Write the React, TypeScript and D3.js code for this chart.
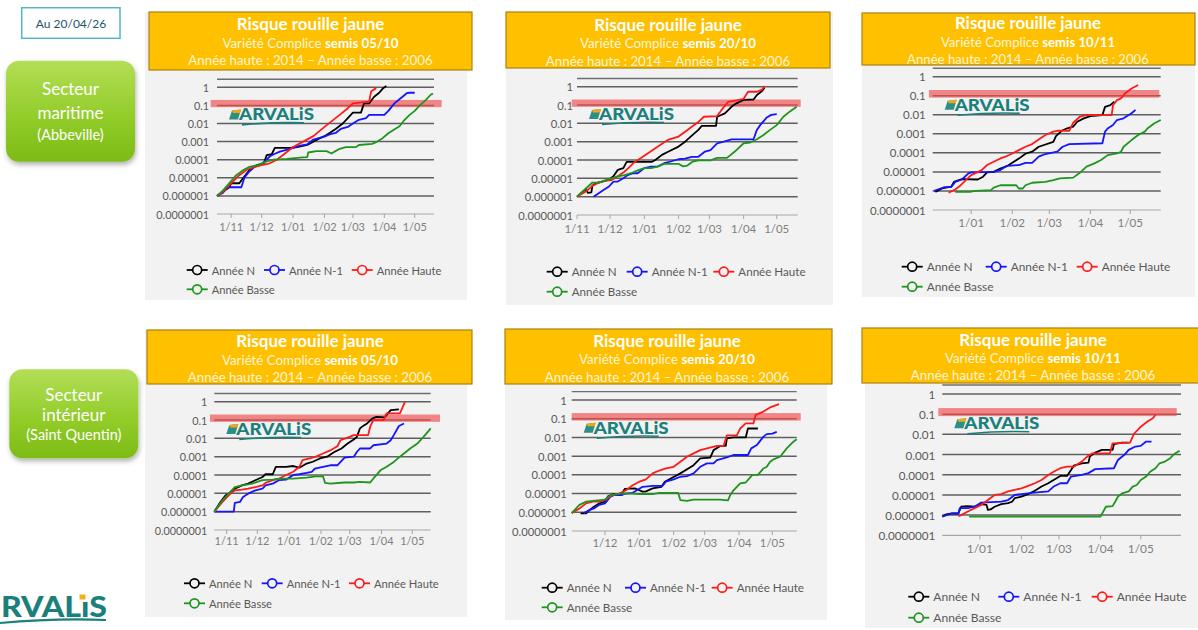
import React from "react";
import * as d3 from "d3";

type Pt = [string, number];

// ---------- shared labels ----------
const seriesNames = ["Année N", "Année N-1", "Année Haute", "Année Basse"];
const seriesColors = ["#000000", "#1414ff", "#ff1a1a", "#1e951e"];
const yTickValues = [1, 0.1, 0.01, 0.001, 0.0001, 0.00001, 0.000001, 0.0000001];
const yTickLabels = ["1", "0.1", "0.01", "0.001", "0.0001", "0.00001", "0.000001", "0.0000001"];
const monthTicksA = ["11-01", "12-01", "01-01", "02-01", "03-01", "04-01", "05-01"];
const monthTicksB = ["12-01", "01-01", "02-01", "03-01", "04-01", "05-01"];
const monthTicksC = ["01-01", "02-01", "03-01", "04-01", "05-01"];
const thresholdValue = 0.1;
const titleMain = "Risque rouille jaune";
const sowingDates = ["05/10", "20/10", "10/11", "05/10", "20/10", "10/11"];
const yearsLine = "Année haute : 2014 – Année basse : 2006";
const sectorLabels = [["Secteur", "maritime", "(Abbeville)"], ["Secteur", "intérieur", "(Saint Quentin)"]];
const dateLabel = "Au 20/04/26";

// ---------- Panel 1 : maritime, semis 05/10 ----------
const p1N: Pt[] = [["10-18",1e-6],["10-24",1.7e-6],["10-30",3e-6],["11-01",5e-6],["11-09",5e-6],["11-13",1e-5],["11-19",2.7e-5],["11-26",5e-5],["12-03",6e-5],["12-06",1.8e-4],["12-11",2e-4],["12-14",4.5e-4],["12-29",4.5e-4],["01-05",5e-4],["01-15",6.5e-4],["01-21",1e-3],["01-27",1.5e-3],["02-01",2e-3],["02-06",3e-3],["02-12",5e-3],["02-19",1e-2],["02-24",0.02],["03-01",0.04],["03-09",0.04],["03-12",0.13],["03-17",0.13],["03-22",0.3],["03-27",0.5],["03-30",0.8],["04-03",1.2]];
const p1N1: Pt[] = [["10-18",1e-6],["10-24",1.5e-6],["10-28",3e-6],["11-11",3e-6],["11-14",1e-5],["11-18",2e-5],["11-24",4e-5],["11-29",5e-5],["12-04",8e-5],["12-09",1.5e-4],["12-13",2e-4],["12-19",2.8e-4],["12-29",4e-4],["01-08",6e-4],["01-15",7e-4],["01-21",1.3e-3],["02-01",1.9e-3],["02-06",2.5e-3],["02-12",3e-3],["02-17",5e-3],["02-24",6.5e-3],["03-01",0.01],["03-07",0.016],["03-14",0.02],["03-17",0.03],["04-01",0.03],["04-05",0.05],["04-11",0.13],["04-15",0.2],["04-19",0.3],["04-23",0.47],["04-26",0.5],["05-01",0.5]];
const p1H: Pt[] = [["10-18",1e-6],["10-24",1.7e-6],["11-01",5e-6],["11-09",1.4e-5],["11-16",2.7e-5],["11-24",4e-5],["12-01",5e-5],["12-08",6e-5],["12-16",1e-4],["12-23",2e-4],["01-01",5e-4],["01-11",1e-3],["01-21",2e-3],["02-01",6.5e-3],["02-16",0.03],["02-24",0.07],["03-01",0.13],["03-17",0.16],["03-19",0.6],["03-24",0.9]];
const p1B: Pt[] = [["10-18",1e-6],["10-24",2e-6],["10-30",5e-6],["11-06",1.4e-5],["11-13",2.7e-5],["11-19",4e-5],["11-27",5e-5],["12-06",8e-5],["12-13",1e-4],["12-26",1.1e-4],["01-08",1.3e-4],["01-15",1.4e-4],["01-16",2.5e-4],["01-24",3e-4],["02-03",3e-4],["02-08",2.2e-4],["02-11",2.8e-4],["02-16",4e-4],["02-22",5e-4],["03-04",5e-4],["03-07",6.5e-4],["03-20",7.5e-4],["03-25",1e-3],["03-30",1.5e-3],["04-05",2.9e-3],["04-10",4.4e-3],["04-16",7e-3],["04-21",0.016],["04-26",0.03],["05-01",0.05],["05-06",0.1],["05-12",0.2],["05-17",0.4],["05-19",0.45]];

// ---------- Panel 2 : maritime, semis 20/10 ----------
const p2N: Pt[] = [["11-01",1e-6],["11-09",2.5e-6],["11-11",1.6e-6],["11-14",1.7e-6],["11-15",4e-6],["11-18",5.5e-6],["11-29",8e-6],["12-04",1.3e-5],["12-08",2.9e-5],["12-13",3.6e-5],["12-16",8e-5],["01-08",8e-5],["01-11",1e-4],["01-17",1.9e-4],["01-23",2.9e-4],["02-01",5.4e-4],["02-07",1e-3],["02-12",1.9e-3],["02-19",4.4e-3],["02-22",7.2e-3],["03-07",7.2e-3],["03-08",0.023],["03-15",0.035],["03-21",0.08],["03-25",0.12],["04-01",0.19],["04-10",0.2],["04-13",0.35],["04-18",0.6],["04-20",0.9]];
const p2N1: Pt[] = [["11-16",1e-6],["11-21",1.6e-6],["11-25",2.3e-6],["11-30",3.6e-6],["12-04",6.7e-6],["12-08",6.7e-6],["12-13",1e-5],["12-17",1.5e-5],["12-22",1.9e-5],["12-26",1.9e-5],["01-01",3.6e-5],["01-07",4.4e-5],["01-13",4.4e-5],["01-19",6.7e-5],["01-25",8.3e-5],["02-01",1.1e-4],["02-07",1.2e-4],["02-13",1.5e-4],["02-19",1.5e-4],["02-25",2.9e-4],["03-02",3.5e-4],["03-08",8.2e-4],["03-14",1e-3],["03-21",1.35e-3],["04-10",1.35e-3],["04-13",4.4e-3],["04-16",8e-3],["04-22",0.021],["04-26",0.029],["05-01",0.032]];
const p2H: Pt[] = [["11-01",1e-6],["11-09",1.9e-6],["11-15",3.9e-6],["11-21",5.9e-6],["11-27",7.6e-6],["12-02",8e-6],["12-08",1.3e-5],["12-14",2.3e-5],["12-19",4.4e-5],["12-23",7.6e-5],["12-29",1.3e-4],["01-04",2.3e-4],["01-11",4.4e-4],["01-17",7.6e-4],["01-23",1.3e-3],["02-01",1.9e-3],["02-07",3.5e-3],["02-13",6.6e-3],["02-19",0.012],["02-24",0.023],["03-08",0.025],["03-12",0.054],["03-18",0.15],["03-28",0.19],["04-01",0.22],["04-05",0.53],["04-13",0.53],["04-18",0.72],["04-20",1.1]];
const p2B: Pt[] = [["11-01",1e-6],["11-09",2.8e-6],["11-15",5.9e-6],["11-21",5.9e-6],["11-27",8e-6],["12-02",1e-5],["12-08",1.3e-5],["12-14",1.5e-5],["12-20",1.9e-5],["12-26",2.7e-5],["01-01",3.6e-5],["01-07",3.6e-5],["01-13",4.4e-5],["01-19",6.2e-5],["02-01",6.2e-5],["02-05",4.5e-5],["02-09",5e-5],["02-14",8.3e-5],["02-19",9.5e-5],["03-02",9.5e-5],["03-08",1.3e-4],["03-17",1.3e-4],["03-24",2.9e-4],["04-01",8.2e-4],["04-07",9e-4],["04-13",1.35e-3],["04-19",2.3e-3],["04-25",4.4e-3],["05-01",8e-3],["05-07",0.023],["05-13",0.045],["05-19",0.08]];

// ---------- Panel 3 : maritime, semis 10/11 ----------
const p3N: Pt[] = [["12-05",9e-7],["12-10",1.35e-6],["12-17",1.7e-6],["12-19",3e-6],["12-25",4.2e-6],["01-06",4e-6],["01-10",5.6e-6],["01-13",9.4e-6],["01-18",1e-5],["01-23",1.5e-5],["01-28",2e-5],["02-01",3e-5],["02-06",5e-5],["02-11",9e-5],["02-16",1.15e-4],["02-21",2.1e-4],["03-04",3.8e-4],["03-06",7.6e-4],["03-10",1.4e-3],["03-14",1.9e-3],["03-19",2.4e-3],["03-22",4.3e-3],["03-27",6.5e-3],["04-01",8.5e-3],["04-10",9.6e-3],["04-12",0.026],["04-16",0.032],["04-19",0.049]];
const p3N1: Pt[] = [["12-04",1e-6],["12-09",1.35e-6],["12-12",1.6e-6],["12-17",1.6e-6],["12-20",3e-6],["12-25",4e-6],["12-30",8.3e-6],["01-01",9.4e-6],["01-18",1e-5],["01-23",1.25e-5],["01-28",2.1e-5],["02-06",2.3e-5],["02-11",3e-5],["02-16",3e-5],["02-21",6.3e-5],["02-26",8.7e-5],["03-07",1.15e-4],["03-11",2.1e-4],["03-16",2.9e-4],["04-10",3.2e-4],["04-12",1.3e-3],["04-14",1.9e-3],["04-18",2.9e-3],["04-21",5.3e-3],["04-26",6.5e-3],["05-02",0.012],["05-05",0.018]];
const p3H: Pt[] = [["12-15",8e-7],["12-20",1.2e-6],["12-23",1.7e-6],["12-28",3.7e-6],["01-01",6.8e-6],["01-09",1.25e-5],["01-13",2.3e-5],["01-18",3.4e-5],["01-23",5.1e-5],["01-28",6.8e-5],["02-01",9.3e-5],["02-06",1.4e-4],["02-11",2.1e-4],["02-16",2.9e-4],["02-21",5.1e-4],["02-26",8.7e-4],["03-04",1.3e-3],["03-07",1.45e-3],["03-16",1.45e-3],["03-19",3.8e-3],["03-24",7.9e-3],["03-29",9.6e-3],["04-17",9.6e-3],["04-18",0.032],["04-21",0.059],["04-24",0.073],["04-27",0.13],["05-02",0.24],["05-07",0.37]];
const p3B: Pt[] = [["12-20",9e-7],["12-31",9e-7],["01-04",1e-6],["01-16",1.1e-6],["01-18",1.5e-6],["01-23",2e-6],["02-04",2e-6],["02-06",1.35e-6],["02-09",1.35e-6],["02-11",2e-6],["02-16",2.7e-6],["02-26",3e-6],["03-04",3.7e-6],["03-09",4.6e-6],["03-19",5e-6],["03-24",9e-6],["03-29",1.9e-5],["04-04",2.8e-5],["04-09",4.2e-5],["04-14",7.6e-5],["04-21",9.3e-5],["04-24",1.15e-4],["04-26",2.1e-4],["05-02",4.7e-4],["05-07",8.7e-4],["05-12",1.3e-3],["05-14",1.9e-3],["05-19",3.5e-3],["05-24",5.3e-3]];

// ---------- Panel 4 : intérieur, semis 05/10 ----------
const p4N: Pt[] = [["10-20",1e-6],["10-26",3.4e-6],["10-31",7.8e-6],["11-03",9.6e-6],["11-09",1.8e-5],["11-16",2.7e-5],["11-22",3.4e-5],["11-29",5.2e-5],["12-06",7.8e-5],["12-09",1.1e-4],["12-16",1.1e-4],["12-19",2.8e-4],["12-29",2.8e-4],["01-05",3.1e-4],["01-11",2.5e-4],["01-18",4.2e-4],["01-24",5.3e-4],["01-31",8e-4],["02-07",1e-3],["02-14",1.8e-3],["02-21",2.8e-3],["02-27",5.2e-3],["03-05",8.7e-3],["03-08",0.012],["03-11",0.035],["03-14",0.047],["03-18",0.065],["03-23",0.12],["03-27",0.15],["04-04",0.14],["04-10",0.35],["04-18",0.38]];
const p4N1: Pt[] = [["10-20",1e-6],["11-08",1e-6],["11-09",3e-6],["11-14",3.4e-6],["11-17",6.3e-6],["11-22",9.6e-6],["11-29",1.45e-5],["12-06",1.8e-5],["12-09",2.7e-5],["12-16",3.4e-5],["12-22",5.2e-5],["12-29",5.6e-5],["01-05",1e-4],["01-11",1.1e-4],["01-18",1.3e-4],["01-23",1.5e-4],["01-26",2.2e-4],["02-03",2.8e-4],["02-10",3.4e-4],["02-17",3.4e-4],["02-24",8.9e-4],["03-05",1e-3],["03-08",1.8e-3],["03-11",2.8e-3],["03-21",2.8e-3],["03-24",4.2e-3],["04-06",5.2e-3],["04-10",7.9e-3],["04-13",0.015],["04-18",0.047],["04-23",0.065]];
const p4H: Pt[] = [["10-20",1e-6],["10-28",3.4e-6],["11-03",7.8e-6],["11-09",1.45e-5],["11-16",1.6e-5],["11-22",1.8e-5],["11-29",2.2e-5],["12-06",2.7e-5],["12-09",3.7e-5],["12-16",5.2e-5],["12-22",6.3e-5],["12-29",1e-4],["01-05",1.5e-4],["01-11",2.8e-4],["01-14",6.4e-4],["01-21",8e-4],["01-27",1e-3],["02-03",1.5e-3],["02-10",2.2e-3],["02-17",3.7e-3],["02-20",7.9e-3],["02-27",0.011],["03-05",0.015],["03-19",0.015],["03-21",0.043],["03-24",0.1],["04-03",0.1],["04-06",0.23],["04-19",0.23],["04-24",1]];
const p4B: Pt[] = [["10-20",1e-6],["10-28",4.2e-6],["11-03",9.6e-6],["11-09",2.2e-5],["11-16",2.7e-5],["11-26",3.4e-5],["12-06",5.2e-5],["12-16",5.6e-5],["12-26",6.3e-5],["01-05",6.3e-5],["01-18",7.2e-5],["01-27",8.5e-5],["02-03",8.5e-5],["02-05",3.7e-5],["02-10",3.4e-5],["02-24",3.9e-5],["03-05",3.9e-5],["03-11",4.2e-5],["03-21",3.9e-5],["03-24",6.3e-5],["03-31",1.8e-4],["04-06",2.8e-4],["04-13",5.2e-4],["04-19",1e-3],["04-23",1.5e-3],["04-29",2.8e-3],["05-06",5.2e-3],["05-12",0.012],["05-19",0.035]];

// ---------- Panel 5 : intérieur, semis 20/10 ----------
const p5N: Pt[] = [["11-09",8.7e-7],["11-14",8.7e-7],["11-17",1.3e-6],["11-21",2e-6],["11-26",3e-6],["12-01",3.7e-6],["12-04",7.4e-6],["12-09",9.4e-6],["12-16",9.4e-6],["12-19",1.8e-5],["12-28",1.9e-5],["01-01",1.5e-5],["01-04",1.26e-5],["01-07",1.3e-5],["01-13",1.9e-5],["01-21",2.3e-5],["01-24",4.3e-5],["02-07",1.2e-4],["02-19",3.3e-4],["02-25",7.6e-4],["03-06",8.4e-4],["03-09",2.1e-3],["03-15",3.5e-3],["03-20",3.5e-3],["03-21",8.9e-3],["03-27",0.01],["04-07",0.01],["04-09",0.03],["04-18",0.03]];
const p5N1: Pt[] = [["11-12",9e-7],["11-17",1.3e-6],["11-21",1.6e-6],["11-26",2.5e-6],["12-01",3e-6],["12-06",6.8e-6],["12-09",8.3e-6],["12-16",8.3e-6],["12-19",1e-5],["12-26",1.1e-5],["01-04",2.3e-5],["01-13",2.6e-5],["01-22",2.6e-5],["01-25",4.3e-5],["02-01",5.7e-5],["02-07",7.9e-5],["02-13",8.6e-5],["02-19",1.2e-4],["02-25",2.7e-4],["03-03",4.1e-4],["03-09",4.1e-4],["03-12",6.2e-4],["03-21",8.5e-4],["03-27",1.15e-3],["04-09",1.15e-3],["04-12",2.6e-3],["04-17",3.9e-3],["04-23",0.011],["04-26",0.015],["05-01",0.016],["05-05",0.02]];
const p5H: Pt[] = [["11-01",9e-7],["11-08",1.6e-6],["11-14",3e-6],["11-20",3.7e-6],["11-26",3.7e-6],["12-01",4.5e-6],["12-08",8.3e-6],["12-14",1e-5],["12-20",1.5e-5],["12-26",2.8e-5],["01-01",4.3e-5],["01-07",5.7e-5],["01-13",1.2e-4],["01-19",1.7e-4],["01-25",2.2e-4],["02-01",2.7e-4],["02-07",5e-4],["02-13",9.3e-4],["02-19",1.4e-3],["02-25",2.1e-3],["03-03",2.6e-3],["03-12",3.5e-3],["03-18",3.5e-3],["03-21",0.013],["03-30",0.013],["04-02",0.03],["04-07",0.056],["04-14",0.056],["04-16",0.16],["04-23",0.24],["04-29",0.4],["05-07",0.6]];
const p5B: Pt[] = [["11-01",9e-7],["11-08",2.5e-6],["11-14",3.7e-6],["11-20",4.1e-6],["12-01",4.8e-6],["12-06",8.3e-6],["12-14",1e-5],["12-26",1e-5],["01-01",9.4e-6],["01-13",9.4e-6],["01-19",1.1e-5],["02-05",1.1e-5],["02-07",4.5e-6],["02-13",4.1e-6],["02-19",4.8e-6],["03-15",4.8e-6],["03-19",4.5e-6],["03-22",4.3e-6],["03-24",8.3e-6],["03-27",1.5e-5],["04-02",3.5e-5],["04-07",3.9e-5],["04-13",1e-4],["04-18",1e-4],["04-23",2.2e-4],["04-26",2.7e-4],["04-29",5e-4],["05-02",6.7e-4],["05-08",9.3e-4],["05-14",2.6e-3],["05-20",5.9e-3],["05-23",7.9e-3]];

// ---------- Panel 6 : intérieur, semis 10/11 ----------
const p6N: Pt[] = [["12-04",8.5e-7],["12-07",1.1e-6],["12-11",1.2e-6],["12-16",1.2e-6],["12-18",2.6e-6],["12-23",2.8e-6],["12-28",2.6e-6],["01-02",3.5e-6],["01-06",3.2e-6],["01-07",1.8e-6],["01-09",1.9e-6],["01-12",2.6e-6],["01-17",3.5e-6],["01-22",3.9e-6],["01-25",4.6e-6],["01-27",6.9e-6],["02-01",8.3e-6],["02-06",1.1e-5],["02-11",1.6e-5],["02-16",2.6e-5],["02-21",3.8e-5],["02-25",5.5e-5],["03-02",8.7e-5],["03-07",8.7e-5],["03-10",1.7e-4],["03-12",2.8e-4],["03-18",3.7e-4],["03-23",4e-4],["03-24",7.9e-4],["03-28",1.25e-3],["04-02",1.7e-3],["04-10",1.7e-3],["04-11",3.3e-3],["04-17",3.9e-3],["04-22",3.9e-3]];
const p6N1: Pt[] = [["12-04",8.5e-7],["12-11",1.2e-6],["12-16",1.2e-6],["12-17",2.2e-6],["12-23",2.2e-6],["12-28",2.6e-6],["01-02",4.2e-6],["01-17",4.7e-6],["01-22",5.6e-6],["01-27",1e-5],["02-01",1.1e-5],["02-06",1.2e-5],["02-11",1.3e-5],["02-21",1.5e-5],["02-25",2.6e-5],["03-02",3.8e-5],["03-07",3.8e-5],["03-10",8.1e-5],["03-18",9.8e-5],["03-23",1.2e-4],["03-28",1.9e-4],["04-11",2.1e-4],["04-14",5.4e-4],["04-19",1e-3],["04-22",1.7e-3],["04-27",2.5e-3],["05-01",2.7e-3],["05-05",4.4e-3],["05-09",4.4e-3]];
const p6H: Pt[] = [["12-16",9e-7],["12-18",1e-6],["12-23",1.5e-6],["12-28",2.2e-6],["01-02",3.2e-6],["01-07",5.6e-6],["01-12",1e-5],["01-17",1.1e-5],["01-22",1.5e-5],["01-27",1.8e-5],["02-01",2.1e-5],["02-06",2.8e-5],["02-11",3.8e-5],["02-16",5.5e-5],["02-21",9.8e-5],["02-25",1.4e-4],["03-02",2.1e-4],["03-07",2.5e-4],["03-12",2.5e-4],["03-18",4.5e-4],["03-22",7.9e-4],["03-26",1.15e-3],["04-08",1.15e-3],["04-10",3.6e-3],["04-23",3.9e-3],["04-26",0.011],["04-29",0.017],["05-01",0.024],["05-06",0.043],["05-10",0.063],["05-12",0.091]];
const p6B: Pt[] = [["12-24",8.5e-7],["04-01",8.5e-7],["04-03",1.5e-6],["04-05",2.6e-6],["04-10",2.8e-6],["04-12",4.7e-6],["04-14",8.3e-6],["04-17",1.2e-5],["04-22",1.5e-5],["04-25",2.6e-5],["04-28",3.1e-5],["05-01",5.5e-5],["05-05",8.1e-5],["05-08",1.4e-4],["05-12",2.1e-4],["05-15",3.7e-4],["05-19",4.5e-4],["05-23",6.6e-4],["05-26",1.07e-3],["05-30",1.55e-3]];

const panelSeries: Pt[][][] = [
  [p1N, p1N1, p1H, p1B],
  [p2N, p2N1, p2H, p2B],
  [p3N, p3N1, p3H, p3B],
  [p4N, p4N1, p4H, p4B],
  [p5N, p5N1, p5H, p5B],
  [p6N, p6N1, p6H, p6B],
];
const xDomains: [string, string][] = [
  ["10-18", "05-20"], ["11-01", "05-20"], ["12-03", "05-24"],
  ["10-20", "05-19"], ["11-01", "05-23"], ["12-04", "05-31"],
];
const panelTicks = [monthTicksA, monthTicksA, monthTicksC, monthTicksA, monthTicksB, monthTicksC];

// ---------- layout (pixels) ----------
type Layout = {
  bg: [number, number, number, number];
  box: [number, number, number, number];
  cx: number; ty: [number, number, number];
  px: [number, number]; y1: number; y7: number;
  tickY: number; band: [number, number]; labGap: number;
  legY: [number, number]; legX: [number, number, number];
  fs: number; tf: number;
};
const layouts: Layout[] = [
  { bg: [145, 12, 467, 300], box: [149, 12, 472, 70], cx: 310.5, ty: [23.5, 42.5, 60], px: [217, 434], y1: 87.3, y7: 214, tickY: 226, band: [210.7, 441.7], labGap: 8, legY: [270, 289.3], legX: [186.7, 264, 351.7], fs: 1, tf: 1 },
  { bg: [506, 12, 833, 305], box: [506, 12, 830, 68], cx: 668, ty: [24, 43.3, 60.7], px: [577, 797.7], y1: 86.7, y7: 215, tickY: 228, band: [571.7, 800.7], labGap: 4, legY: [271.7, 291.7], legX: [546.7, 626.7, 713.3], fs: 1.04, tf: 1 },
  { bg: [862, 13, 1195, 297], box: [862, 13, 1195, 65], cx: 1028, ty: [22.7, 42, 58.5], px: [932.7, 1160.7], y1: 76.7, y7: 210, tickY: 221.7, band: [929, 1159.3], labGap: 7, legY: [266.7, 286.7], legX: [901.7, 985.7, 1076.7], fs: 1.06, tf: 0.99 },
  { bg: [145, 330, 467, 617], box: [147, 330, 472, 384], cx: 310, ty: [340.7, 360, 377.3], px: [214.3, 430.7], y1: 401.7, y7: 530, tickY: 540, band: [210, 440], labGap: 7, legY: [583.3, 603.3], legX: [184, 261.7, 349], fs: 1, tf: 1 },
  { bg: [505, 329, 827, 620], box: [505, 329, 832, 384], cx: 667, ty: [340.7, 359.3, 376.7], px: [571.7, 796.7], y1: 400, y7: 531, tickY: 542.7, band: [571.7, 800.7], labGap: 5, legY: [587.7, 607.3], legX: [541.7, 625, 711.7], fs: 1.04, tf: 1 },
  { bg: [865, 328, 1198, 628], box: [862, 328, 1200, 383], cx: 1033, ty: [339.3, 358.3, 375], px: [942.3, 1181], y1: 394, y7: 535.3, tickY: 548.3, band: [938.3, 1176.7], labGap: 7, legY: [596.7, 617.7], legX: [908.3, 998.3, 1091.7], fs: 1.08, tf: 1 },
];

const FONT = "Lato, 'Open Sans', sans-serif";
const TEAL = "#1b7f7b";

const parseMD = (s: string) => {
  const [m, d] = s.split("-").map(Number);
  return new Date(m >= 8 ? 2025 : 2026, m - 1, d);
};

function SmallLogo({ x, y }: { x: number; y: number }) {
  return (
    <g>
      <path d={`M${x},${y + 5} L${x + 3},${y - 4} L${x + 12},${y - 5} L${x + 9},${y + 5} Z`} fill="#2a8f86" />
      <path d={`M${x + 3},${y - 4} L${x + 12},${y - 5} L${x + 11},${y - 1.5} L${x + 4},${y - 1.5} Z`} fill="#f0a818" />
      <text x={x + 10} y={y + 6} fontFamily={FONT} fontWeight={900} fontSize={16} fill={TEAL}
        textLength={75} lengthAdjust="spacingAndGlyphs">ARVALiS</text>
      <path d={`M${x + 13},${y + 10.5} Q${x + 45},${y + 7.5} ${x + 75},${y + 8.5}`} stroke={TEAL} strokeWidth={1.6} fill="none" />
    </g>
  );
}

function Panel({ idx }: { idx: number }) {
  const L = layouts[idx];
  const series = panelSeries[idx];
  const x = d3.scaleTime().domain(xDomains[idx].map(parseMD)).range(L.px);
  const y = d3.scaleLog().domain([1e-7, 1]).range([L.y7, L.y1]);
  const line = d3.line<Pt>().x((d) => x(parseMD(d[0]))).y((d) => y(d[1]));
  const yTop = y(2.8);
  const bandTop = y(0.2);
  const bandBot = y(0.08);
  const [bx0, by0, bx1, by1] = L.box;
  const [gx0, gy0, gx1, gy1] = L.bg;
  const f = L.fs;
  const tf = L.tf;
  return (
    <g>
      <rect x={gx0} y={gy0} width={gx1 - gx0} height={gy1 - gy0} fill="#f2f2f2" />
      <rect x={bx0} y={by0} width={bx1 - bx0} height={by1 - by0} fill="#ffc000" stroke="#a9820f" strokeWidth={1.2} />
      <text x={L.cx} y={L.ty[0]} textAnchor="middle" dominantBaseline="central" fontFamily={FONT} fontWeight={700}
        fontSize={17 * tf} fill="#ffffff">{titleMain}</text>
      <text x={L.cx} y={L.ty[1]} textAnchor="middle" dominantBaseline="central" fontFamily={FONT} fontSize={13.3 * tf} fill="#fff5d8">
        Variété Complice <tspan fontWeight={700} fill="#ffffff">semis {sowingDates[idx]}</tspan>
      </text>
      <text x={L.cx} y={L.ty[2]} textAnchor="middle" dominantBaseline="central" fontFamily={FONT} fontSize={13.3 * tf} fill="#fff5d8">{yearsLine}</text>

      <line x1={L.px[0]} x2={L.px[1]} y1={yTop} y2={yTop} stroke="#6e6e6e" strokeWidth={1.4} />
      {yTickValues.map((v, i) => (
        <g key={i}>
          {i < yTickValues.length - 1 && (
            <line x1={L.px[0]} x2={L.px[1]} y1={y(v)} y2={y(v)} stroke="#5f5f5f" strokeWidth={1.5} />
          )}
          <text x={L.px[0] - L.labGap} y={y(v)} textAnchor="end" dominantBaseline="central" fontFamily={FONT}
            fontSize={10.8 * f} fill="#595959">{yTickLabels[i]}</text>
        </g>
      ))}
      <line x1={L.px[0]} x2={L.px[1]} y1={L.y7} y2={L.y7} stroke="#a6a6a6" strokeWidth={1.2} />
      {panelTicks[idx].map((t) => (
        <g key={t}>
          <line x1={x(parseMD(t))} x2={x(parseMD(t))} y1={L.y7} y2={L.y7 + 4} stroke="#a6a6a6" strokeWidth={1} />
          <text x={x(parseMD(t))} y={L.tickY} textAnchor="middle" dominantBaseline="central" fontFamily={FONT}
            fontSize={11 * f} fill="#7f7f7f">{d3.timeFormat("%-d/%m")(parseMD(t))}</text>
        </g>
      ))}
      <rect x={L.band[0]} y={bandTop} width={L.band[1] - L.band[0]} height={bandBot - bandTop} fill="#f04848" opacity={0.65} />
      <SmallLogo x={L.px[0] + 12} y={y(thresholdValue) + 9} />
      {series.map((s, i) => (
        <path key={i} d={line(s) || ""} fill="none" stroke={seriesColors[i]} strokeWidth={1.8} strokeLinejoin="round" />
      ))}
      {seriesNames.map((n, i) => {
        const lx = i < 3 ? L.legX[i] : L.legX[0];
        const ly = i < 3 ? L.legY[0] : L.legY[1];
        return (
          <g key={n}>
            <line x1={lx} x2={lx + 21} y1={ly} y2={ly} stroke={seriesColors[i]} strokeWidth={1.8} />
            <circle cx={lx + 10.5} cy={ly} r={4.5} fill="#f2f2f2" stroke={seriesColors[i]} strokeWidth={1.7} />
            <text x={lx + 25} y={ly} dominantBaseline="central" fontFamily={FONT} fontSize={11.2 * f} fill="#595959">{n}</text>
          </g>
        );
      })}
    </g>
  );
}

function SectorBox({ x, y, w, h, lines }: { x: number; y: number; w: number; h: number; lines: string[] }) {
  const cx = x + w / 2;
  return (
    <g>
      <rect x={x} y={y} width={w} height={h} rx={13} fill="url(#greenGrad)" filter="url(#shadow)" />
      <text x={cx} y={y + h * 0.28} textAnchor="middle" dominantBaseline="central" fontFamily={FONT} fontSize={17} fill="#ffffff">{lines[0]}</text>
      <text x={cx} y={y + h * 0.51} textAnchor="middle" dominantBaseline="central" fontFamily={FONT} fontSize={17} fill="#ffffff">{lines[1]}</text>
      <text x={cx} y={y + h * 0.73} textAnchor="middle" dominantBaseline="central" fontFamily={FONT} fontSize={14.5} fill="#ffffff">{lines[2]}</text>
    </g>
  );
}

export default function App() {
  return (
    <svg width={1198} height={630} style={{ position: "absolute", left: 0, top: 0, background: "#ffffff" }}>
      <defs>
        <linearGradient id="greenGrad" x1="0" y1="0" x2="0" y2="1">
          <stop offset="0%" stopColor="#b3de57" />
          <stop offset="55%" stopColor="#92cd2a" />
          <stop offset="100%" stopColor="#7dbb16" />
        </linearGradient>
        <filter id="shadow" x="-10%" y="-10%" width="130%" height="140%">
          <feDropShadow dx={1} dy={3} stdDeviation={2.5} floodColor="#000" floodOpacity={0.3} />
        </filter>
      </defs>
      <rect x={0} y={0} width={1198} height={630} fill="#ffffff" />

      <rect x={21.7} y={7.7} width={98.3} height={30.6} fill="#ffffff" stroke="#56b4c4" strokeWidth={1.5} />
      <text x={71} y={23.5} textAnchor="middle" dominantBaseline="central" fontFamily={FONT} fontSize={12} fill="#24536a">{dateLabel}</text>

      <SectorBox x={6} y={60.7} w={129} h={101} lines={sectorLabels[0]} />
      <SectorBox x={9.3} y={369.3} w={129} h={89} lines={sectorLabels[1]} />

      {[0, 1, 2, 3, 4, 5].map((i) => <Panel key={i} idx={i} />)}

      <g>
        <text x={1} y={617} fontFamily={FONT} fontWeight={900} fontSize={28} fill={TEAL}
          textLength={106} lengthAdjust="spacingAndGlyphs">RVALıS</text>
        <rect x={79.5} y={594.5} width={6} height={5} fill="#f3b01a" />
        <path d="M0,623 Q55,618 106,620" stroke={TEAL} strokeWidth={2.2} fill="none" />
      </g>
    </svg>
  );
}
